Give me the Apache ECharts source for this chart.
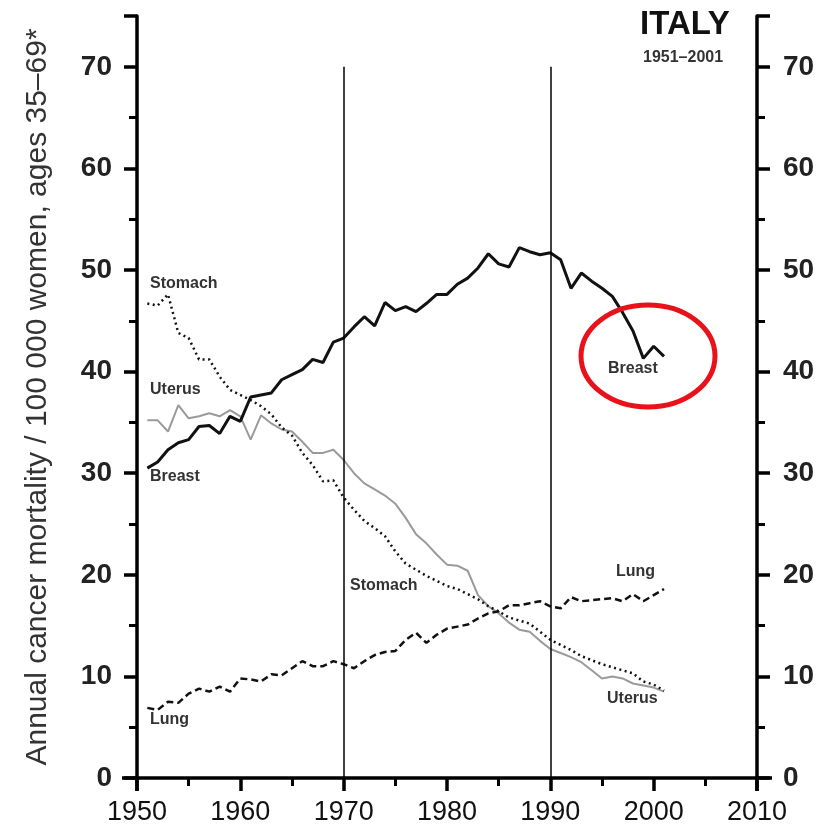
<!DOCTYPE html>
<html>
<head>
<meta charset="utf-8">
<script src="https://cdn.jsdelivr.net/npm/echarts@6/dist/echarts.min.js"></script>
<style>
  html, body { margin: 0; padding: 0; background: #fff; }
  #main { width: 827px; height: 833px; }
</style>
</head>
<body>
<div id="main"></div>
<script>
// years 1951-2001
var years = [];
for (var y = 1951; y <= 2001; y++) years.push(y);

// mortality per 100 000 women, ages 35-69
var breast = [30.5, 31.1, 32.3, 33.0, 33.3, 34.6, 34.7, 33.9, 35.6, 35.1,
              37.5, 37.7, 37.9, 39.2, 39.7, 40.2, 41.2, 40.9, 42.9, 43.3,
              44.4, 45.4, 44.5, 46.8, 46.0, 46.4, 45.9, 46.7, 47.6, 47.6,
              48.6, 49.2, 50.2, 51.6, 50.6, 50.3, 52.2, 51.8, 51.5, 51.7,
              51.0, 48.2, 49.7, 48.9, 48.2, 47.4, 45.8, 44.0, 41.3, 42.5, 41.5];
var uterus = [35.2, 35.2, 34.1, 36.7, 35.4, 35.6, 35.9, 35.6, 36.2, 35.6,
              33.3, 35.7, 34.9, 34.3, 34.1, 33.1, 32.0, 32.0, 32.3, 31.3,
              30.0, 29.0, 28.4, 27.8, 27.0, 25.6, 24.0, 23.1, 22.0, 21.0,
              20.9, 20.4, 18.0, 16.9, 16.2, 15.3, 14.6, 14.4, 13.5, 12.7,
              12.3, 11.9, 11.4, 10.6, 9.8, 10.0, 9.8, 9.3, 9.1, 8.9, 8.5];
var stomach = [46.7, 46.5, 47.6, 43.8, 43.3, 41.2, 41.2, 39.5, 38.2, 37.7,
               37.2, 36.6, 35.8, 34.5, 33.7, 32.0, 30.8, 29.2, 29.3, 27.6,
               26.4, 25.3, 24.6, 23.8, 22.3, 21.1, 20.5, 19.9, 19.4, 18.9,
               18.6, 18.1, 17.6, 16.9, 16.4, 15.8, 15.5, 15.2, 14.4, 13.6,
               13.1, 12.6, 12.0, 11.6, 11.2, 10.9, 10.6, 10.3, 9.5, 9.2, 8.6];
var lung = [6.9, 6.7, 7.5, 7.4, 8.3, 8.8, 8.5, 9.0, 8.5, 9.8,
            9.7, 9.5, 10.2, 10.1, 10.8, 11.5, 11.0, 11.0, 11.5, 11.2,
            10.8, 11.5, 12.1, 12.4, 12.5, 13.6, 14.3, 13.3, 14.1, 14.7,
            14.9, 15.1, 15.7, 16.2, 16.4, 17.0, 17.0, 17.2, 17.4, 16.9,
            16.7, 17.8, 17.4, 17.5, 17.6, 17.7, 17.4, 18.1, 17.4, 18.0, 18.6];

var refYears = [1970, 1990];   // vertical reference lines

function pairs(arr) {
    return arr.map(function (v, i) { return [years[i], v]; });
}

var FONT = '"Liberation Sans", Arial, sans-serif';
var NARROW = '"Liberation Sans Narrow", "Liberation Sans", Arial, sans-serif';

var chart = echarts.init(document.getElementById('main'));

function yAxisCfg(pos, margin) {
    return {
        type: 'value',
        position: pos,
        min: 0,
        max: 75,
        interval: 10,
        axisLine: { show: true, lineStyle: { color: '#000', width: 3.5 } },
        axisTick: { show: true, inside: false, length: 13, lineStyle: { color: '#000', width: 3.5 } },
        minorTick: { show: true, splitNumber: 2, length: 8, lineStyle: { color: '#000', width: 3 } },
        splitLine: { show: false },
        axisLabel: {
            margin: margin,
            fontFamily: NARROW,
            fontWeight: 'bold',
            fontSize: 28,
            color: '#222',
            formatter: function (v) { return v === 75 ? '' : String(v); }
        }
    };
}

var labelStyle = { fontFamily: FONT, fontWeight: 'bold', fontSize: 16, fill: '#333' };
function txt(x, y, s) {
    return { type: 'text', left: x, top: y, style: Object.assign({ text: s }, labelStyle) };
}

var option = {
    backgroundColor: '#fff',
    animation: false,
    grid: { left: 137, right: 70, top: 16, bottom: 55 },
    xAxis: {
        type: 'value',
        min: 1950,
        max: 2010,
        interval: 10,
        axisLine: { show: true, onZero: false, lineStyle: { color: '#000', width: 3.5 } },
        axisTick: { show: true, length: 13, lineStyle: { color: '#000', width: 3.5 } },
        minorTick: { show: true, splitNumber: 2, length: 8, lineStyle: { color: '#000', width: 3 } },
        splitLine: { show: false },
        axisLabel: {
            margin: 21, fontFamily: FONT, fontSize: 27, color: '#111',
            formatter: function (v) { return String(v); }
        }
    },
    yAxis: [
        Object.assign(yAxisCfg('left', 25), {
            name: 'Annual cancer mortality / 100 000 women, ages 35\u201369*',
            nameLocation: 'middle',
            nameRotate: 90,
            nameGap: 84,
            nameTextStyle: { fontFamily: FONT, fontSize: 30, color: '#333' }
        }),
        yAxisCfg('right', 26)
    ],
    series: [
        {
            name: 'Uterus', type: 'line', data: pairs(uterus), showSymbol: false,
            lineStyle: { color: '#9a9a9a', width: 2 }
        },
        {
            name: 'Stomach', type: 'line', data: pairs(stomach), showSymbol: false,
            lineStyle: { color: '#111', width: 2.5, type: [2, 3.5] }
        },
        {
            name: 'Lung', type: 'line', data: pairs(lung), showSymbol: false,
            lineStyle: { color: '#111', width: 2.5, type: [7, 4] }
        },
        {
            name: 'Breast', type: 'line', data: pairs(breast), showSymbol: false,
            lineStyle: { color: '#111', width: 3 },
            markLine: {
                silent: true,
                symbol: 'none',
                label: { show: false },
                lineStyle: { color: '#000', width: 1.5, type: 'solid' },
                data: refYears.map(function (yr) {
                    return [{ coord: [yr, 0] }, { coord: [yr, 70] }];
                })
            }
        }
    ],
    graphic: [
        // axis overshoot
        { type: 'line', shape: { x1: 122, y1: 778, x2: 137, y2: 778 }, style: { stroke: '#000', lineWidth: 3.5 } },
        { type: 'line', shape: { x1: 757, y1: 778, x2: 772, y2: 778 }, style: { stroke: '#000', lineWidth: 3.5 } },
        { type: 'line', shape: { x1: 137, y1: 778, x2: 137, y2: 791 }, style: { stroke: '#000', lineWidth: 3.5 } },
        { type: 'line', shape: { x1: 757, y1: 778, x2: 757, y2: 791 }, style: { stroke: '#000', lineWidth: 3.5 } },
        // title
        { type: 'text', left: 640, top: 8, style: { text: 'ITALY', fontFamily: FONT, fontWeight: 'bold', fontSize: 33, fill: '#111' } },
        { type: 'text', left: 643, top: 50, style: { text: '1951\u20132001', fontFamily: FONT, fontWeight: 'bold', fontSize: 16, fill: '#333' } },
        // series labels
        txt(150, 276, 'Stomach'),
        txt(150, 382, 'Uterus'),
        txt(150, 469, 'Breast'),
        txt(150, 712, 'Lung'),
        txt(350, 578, 'Stomach'),
        txt(616, 564, 'Lung'),
        txt(607, 691, 'Uterus'),
        txt(608, 361, 'Breast'),
        // red ellipse
        { type: 'ellipse', shape: { cx: 648, cy: 356, rx: 67, ry: 51 }, style: { fill: 'none', stroke: '#e8121b', lineWidth: 5 }, z: 10 }
    ]
};

chart.setOption(option);
</script>
</body>
</html>
